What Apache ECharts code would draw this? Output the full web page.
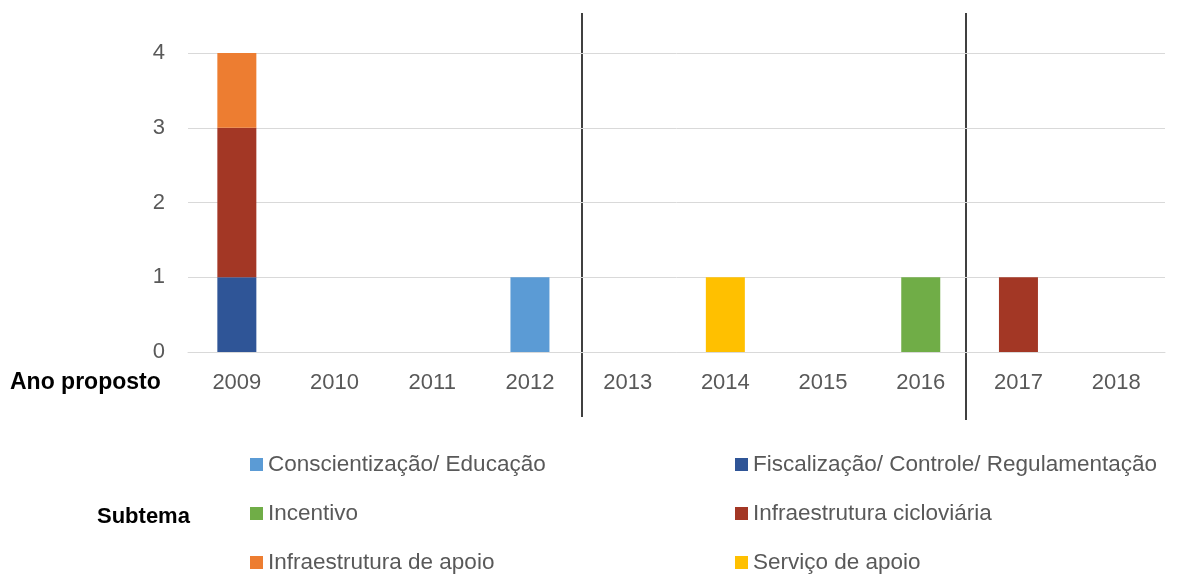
<!DOCTYPE html>
<html>
<head>
<meta charset="utf-8">
<script src="https://cdn.jsdelivr.net/npm/echarts@6/dist/echarts.min.js"></script>
<style>
  html, body { margin: 0; padding: 0; background: #fff; }
  #chart { width: 1194px; height: 574px; }
</style>
</head>
<body>
<div id="chart"></div>
<script>
const years = ['2009', '2010', '2011', '2012', '2013', '2014', '2015', '2016', '2017', '2018']
const yTicks = [0, 1, 2, 3, 4]

const conscientizacao = [0, 0, 0, 1, 0, 0, 0, 0, 0, 0]
const fiscalizacao = [1, 0, 0, 0, 0, 0, 0, 0, 0, 0]
const incentivo = [0, 0, 0, 0, 0, 0, 0, 1, 0, 0]
const infraCicloviaria = [2, 0, 0, 0, 0, 0, 0, 0, 1, 0]
const infraApoio = [1, 0, 0, 0, 0, 0, 0, 0, 0, 0]
const servicoApoio = [0, 0, 0, 0, 0, 1, 0, 0, 0, 0]

const names = {
  consc: 'Conscientização/ Educação',
  fisc: 'Fiscalização/ Controle/ Regulamentação',
  inc: 'Incentivo',
  cic: 'Infraestrutura cicloviária',
  apo: 'Infraestrutura de apoio',
  serv: 'Serviço de apoio'
}

const font = 'Liberation Sans'
const textColor = '#595959'

const makeSeries = (name, data, color) => ({
  name,
  type: 'bar',
  stack: 'total',
  barWidth: 39,
  itemStyle: { color },
  data
})

const legendText = { fontFamily: font, fontSize: 22.5, lineHeight: 22, color: textColor }

const option = {
  animation: false,
  grid: { left: 188, right: 29, top: 53, bottom: 222 },
  xAxis: {
    type: 'category',
    data: years,
    axisTick: { show: false },
    axisLine: { lineStyle: { color: '#d9d9d9', width: 1 } },
    axisLabel: { margin: 20, fontFamily: font, fontSize: 22, color: textColor }
  },
  yAxis: {
    type: 'value',
    min: yTicks[0],
    max: yTicks[yTicks.length - 1],
    interval: 1,
    axisLine: { show: false },
    axisTick: { show: false },
    splitLine: { lineStyle: { color: '#d9d9d9', width: 1 } },
    axisLabel: { margin: 23, fontFamily: font, fontSize: 22, color: textColor }
  },
  legend: [
    {
      orient: 'vertical',
      left: 250,
      top: 453,
      padding: 0,
      itemGap: 26,
      itemWidth: 13,
      itemHeight: 13,
      icon: 'rect',
      textStyle: legendText,
      data: [names.consc, names.inc, names.apo]
    },
    {
      orient: 'vertical',
      left: 735,
      top: 453,
      padding: 0,
      itemGap: 26,
      itemWidth: 13,
      itemHeight: 13,
      icon: 'rect',
      textStyle: legendText,
      data: [names.fisc, names.cic, names.serv]
    }
  ],
  graphic: [
    {
      type: 'text',
      left: 10,
      top: 371,
      style: { text: 'Ano proposto', fontFamily: font, fontSize: 23, fontWeight: 'bold', fill: '#000' }
    },
    {
      type: 'text',
      left: 97,
      top: 506,
      style: { text: 'Subtema', fontFamily: font, fontSize: 22, fontWeight: 'bold', fill: '#000' }
    },
    {
      type: 'line',
      shape: { x1: 582, y1: 13, x2: 582, y2: 417 },
      style: { stroke: '#000', lineWidth: 1.5 }
    },
    {
      type: 'line',
      shape: { x1: 966, y1: 13, x2: 966, y2: 420 },
      style: { stroke: '#000', lineWidth: 1.5 }
    }
  ],
  series: [
    makeSeries(names.consc, conscientizacao, '#5b9bd5'),
    makeSeries(names.fisc, fiscalizacao, '#2f5597'),
    makeSeries(names.inc, incentivo, '#70ad47'),
    makeSeries(names.cic, infraCicloviaria, '#a33725'),
    makeSeries(names.apo, infraApoio, '#ed7d31'),
    makeSeries(names.serv, servicoApoio, '#ffc000')
  ]
}

const chart = echarts.init(document.getElementById('chart'))
chart.setOption(option)
</script>
</body>
</html>
